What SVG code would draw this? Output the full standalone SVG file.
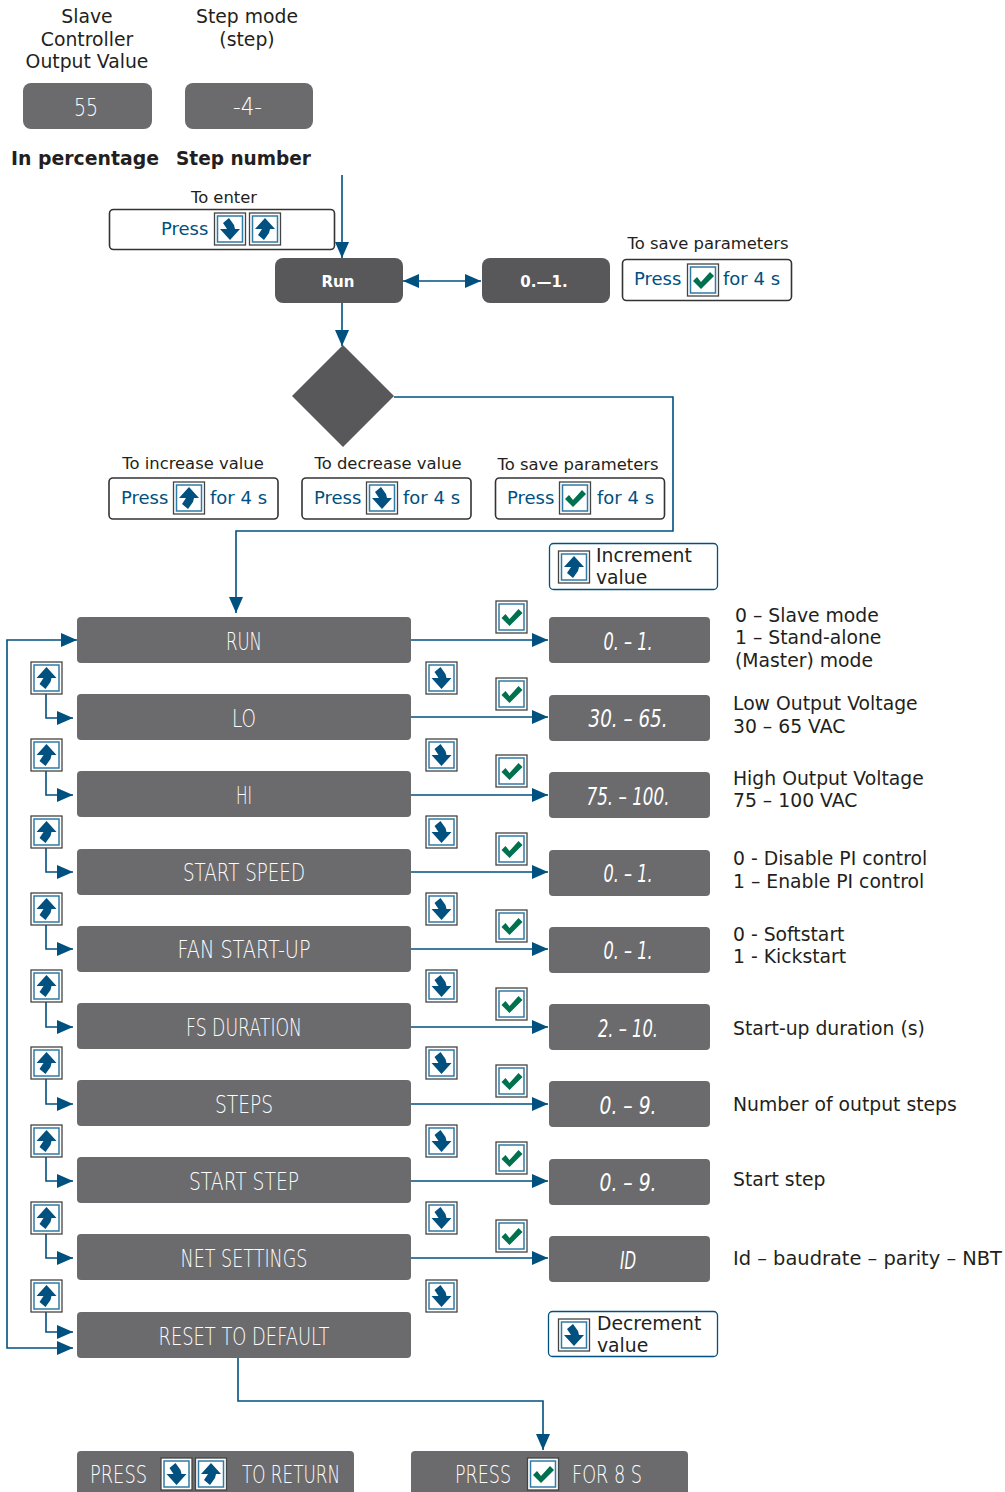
<svg xmlns="http://www.w3.org/2000/svg" width="1005" height="1492" viewBox="0 0 1005 1492">
<style>
text{font-family:"DejaVu Sans",Verdana,sans-serif}
.t{font-size:18.8px;fill:#231f20}
.c{text-anchor:middle}
.s{font-size:16.4px;fill:#231f20;text-anchor:middle}
.b{font-size:19.5px;font-weight:bold;fill:#231f20}
.p{font-size:18px;fill:#005080}
.d{fill:#6b6b6e}
.k{fill:#58585a}
.w{font-size:15px;font-weight:bold;fill:#fff;text-anchor:middle}
.l{font-weight:200;font-size:24px;fill:#fff;text-anchor:middle}
.i{font-style:italic}
.box{fill:#fff;stroke:#333;stroke-width:1.6}
.blue{fill:#fff;stroke:#005080;stroke-width:1.3}
.con{fill:none;stroke:#005080;stroke-width:1.6}
</style>
<defs>
<marker id="a" markerUnits="userSpaceOnUse" markerWidth="16" markerHeight="14" refX="16" refY="7" orient="auto-start-reverse"><path d="M0 0L16 7L0 14Z" fill="#005080"/></marker>
<g id="frame"><rect x="-15.500" y="-16" width="31" height="32" fill="#fff" stroke="#444" stroke-width="1.3"/><rect x="-12.500" y="-13" width="25" height="26" fill="#fff" stroke="#2f7ba5" stroke-width="1.5"/></g>
<g id="up"><use href="#frame"/><path d="M0-11L10 0H5L4 4L-1 11L-7 6L-3 0H-10Z" fill="#005080"/></g>
<g id="down"><use href="#frame"/><path d="M0 11L10 0H5L4-4L-1-11L-7-6L-3 0H-10Z" fill="#005080"/></g>
<g id="ok"><use href="#frame"/><path d="M-10 1L-6-3L-2 2L7-8L11-4L-2 9Z" fill="#00704f"/></g>
</defs>

<g id="connectors" class="con">
<path d="M342 175V258" marker-end="url(#a)"/>
<path d="M403 281H481" marker-start="url(#a)" marker-end="url(#a)"/>
<path d="M342 303V346" marker-end="url(#a)"/>
<path d="M394 397H673V531H236V613" marker-end="url(#a)"/>
<path d="M73 1348H7V640H77" marker-start="url(#a)" marker-end="url(#a)"/>
<path d="M411 640H548" marker-end="url(#a)"/><path d="M411 717H548" marker-end="url(#a)"/><path d="M411 795H548" marker-end="url(#a)"/><path d="M411 872H548" marker-end="url(#a)"/><path d="M411 949H548" marker-end="url(#a)"/><path d="M411 1027H548" marker-end="url(#a)"/><path d="M411 1104H548" marker-end="url(#a)"/><path d="M411 1181H548" marker-end="url(#a)"/><path d="M411 1258H548" marker-end="url(#a)"/>
<path d="M46 694V718H73" marker-end="url(#a)"/><path d="M46 771V795H73" marker-end="url(#a)"/><path d="M46 848V872H73" marker-end="url(#a)"/><path d="M46 925V949H73" marker-end="url(#a)"/><path d="M46 1002V1027H73" marker-end="url(#a)"/><path d="M46 1079V1104H73" marker-end="url(#a)"/><path d="M46 1157V1181H73" marker-end="url(#a)"/><path d="M46 1234V1258H73" marker-end="url(#a)"/><path d="M46 1312V1332H73" marker-end="url(#a)"/>
<path d="M238 1358V1401H543V1450" marker-end="url(#a)"/>
</g>

<g id="label-slave"><text class="t c" x="87" y="23">Slave</text><text class="t c" x="87" y="46">Controller</text><text class="t c" x="87" y="68">Output Value</text></g>
<g id="label-step"><text class="t c" x="247" y="23">Step mode</text><text class="t c" x="247" y="46">(step)</text></g>
<g id="n-55"><rect class="d" x="23" y="83" width="129" height="46" rx="8"/><text class="l" x="86" y="116" textLength="24" lengthAdjust="spacingAndGlyphs">55</text></g>
<g id="n-4"><rect class="d" x="185" y="83" width="128" height="46" rx="8"/><text class="l" x="247.500" y="115" textLength="29" lengthAdjust="spacingAndGlyphs">-4-</text></g>
<text class="b" x="11" y="165" textLength="148" lengthAdjust="spacingAndGlyphs">In percentage</text>
<text class="b" x="176" y="165" textLength="135" lengthAdjust="spacingAndGlyphs">Step number</text>

<g id="enter"><text class="s" x="224" y="203">To enter</text><rect class="box" x="109.500" y="209.500" width="225" height="40" rx="4"/><text class="p" x="161" y="235">Press</text><use href="#down" x="230" y="229"/><use href="#up" x="265" y="229"/></g>
<g id="n-run"><rect class="k" x="275" y="258" width="128" height="45" rx="8"/><text class="w" x="338" y="287">Run</text></g>
<g id="n-01"><rect class="k" x="482" y="258" width="128" height="45" rx="8"/><text class="w" x="544" y="287">0.—1.</text></g>
<g id="save1"><text class="s" x="708" y="249">To save parameters</text><rect class="box" x="622.500" y="259.500" width="169" height="41" rx="4"/><text class="p" x="634" y="285">Press</text><use href="#ok" x="703" y="280"/><text class="p" x="723" y="285">for 4 s</text></g>
<g id="decision"><path class="k" d="M343 345L394 396L343 447L292 396Z"/></g>

<g id="inc"><text class="s" x="193" y="469">To increase value</text><rect class="box" x="109" y="478" width="169" height="41" rx="4"/><text class="p" x="121" y="504">Press</text><use href="#up" x="189" y="498"/><text class="p" x="210" y="504">for 4 s</text></g>
<g id="dec"><text class="s" x="388" y="469">To decrease value</text><rect class="box" x="302" y="478" width="169" height="41" rx="4"/><text class="p" x="314" y="504">Press</text><use href="#down" x="382" y="498"/><text class="p" x="403" y="504">for 4 s</text></g>
<g id="save2"><text class="s" x="578" y="470">To save parameters</text><rect class="box" x="495.500" y="478" width="169" height="41" rx="4"/><text class="p" x="507" y="504">Press</text><use href="#ok" x="575" y="498"/><text class="p" x="597" y="504">for 4 s</text></g>

<g id="legend-inc"><rect class="blue" x="549.500" y="543.500" width="168" height="46" rx="4"/><use href="#up" x="574" y="567"/><text class="t" x="596" y="562">Increment</text><text class="t" x="596" y="584">value</text></g>
<g id="legend-dec"><rect class="blue" x="548.500" y="1311.500" width="169" height="45" rx="4"/><use href="#down" x="574" y="1335"/><text class="t" x="597" y="1330">Decrement</text><text class="t" x="597" y="1352">value</text></g>

<g id="r1"><rect class="d" x="77" y="617" width="334" height="46" rx="4"/><text class="l" x="244" y="650" textLength="36" lengthAdjust="spacingAndGlyphs">RUN</text></g>
<g id="r2"><rect class="d" x="77" y="694" width="334" height="46" rx="4"/><text class="l" x="244" y="727" textLength="24" lengthAdjust="spacingAndGlyphs">LO</text></g>
<g id="r3"><rect class="d" x="77" y="771" width="334" height="46" rx="4"/><text class="l" x="244" y="804" textLength="16" lengthAdjust="spacingAndGlyphs">HI</text></g>
<g id="r4"><rect class="d" x="77" y="849" width="334" height="46" rx="4"/><text class="l" x="244" y="881" textLength="122" lengthAdjust="spacingAndGlyphs">START SPEED</text></g>
<g id="r5"><rect class="d" x="77" y="926" width="334" height="46" rx="4"/><text class="l" x="244" y="958" textLength="133" lengthAdjust="spacingAndGlyphs">FAN START-UP</text></g>
<g id="r6"><rect class="d" x="77" y="1003" width="334" height="46" rx="4"/><text class="l" x="244" y="1036" textLength="116" lengthAdjust="spacingAndGlyphs">FS DURATION</text></g>
<g id="r7"><rect class="d" x="77" y="1080" width="334" height="46" rx="4"/><text class="l" x="244" y="1113" textLength="58" lengthAdjust="spacingAndGlyphs">STEPS</text></g>
<g id="r8"><rect class="d" x="77" y="1157" width="334" height="46" rx="4"/><text class="l" x="244" y="1190" textLength="110" lengthAdjust="spacingAndGlyphs">START STEP</text></g>
<g id="r9"><rect class="d" x="77" y="1234" width="334" height="46" rx="4"/><text class="l" x="244" y="1267" textLength="127" lengthAdjust="spacingAndGlyphs">NET SETTINGS</text></g>
<g id="r10"><rect class="d" x="77" y="1312" width="334" height="46" rx="4"/><text class="l" x="244" y="1345" textLength="171" lengthAdjust="spacingAndGlyphs">RESET TO DEFAULT</text></g>

<g id="v1"><rect class="d" x="549" y="617" width="161" height="46" rx="4"/><text class="l i" x="628" y="650" textLength="49" lengthAdjust="spacingAndGlyphs">0. – 1.</text></g>
<g id="v2"><rect class="d" x="549" y="695" width="161" height="46" rx="4"/><text class="l i" x="628" y="727" textLength="79" lengthAdjust="spacingAndGlyphs">30. – 65.</text></g>
<g id="v3"><rect class="d" x="549" y="772" width="161" height="46" rx="4"/><text class="l i" x="628" y="805" textLength="83" lengthAdjust="spacingAndGlyphs">75. – 100.</text></g>
<g id="v4"><rect class="d" x="549" y="850" width="161" height="46" rx="4"/><text class="l i" x="628" y="882" textLength="49" lengthAdjust="spacingAndGlyphs">0. – 1.</text></g>
<g id="v5"><rect class="d" x="549" y="927" width="161" height="46" rx="4"/><text class="l i" x="628" y="959" textLength="49" lengthAdjust="spacingAndGlyphs">0. – 1.</text></g>
<g id="v6"><rect class="d" x="549" y="1004" width="161" height="46" rx="4"/><text class="l i" x="628" y="1037" textLength="60" lengthAdjust="spacingAndGlyphs">2. – 10.</text></g>
<g id="v7"><rect class="d" x="549" y="1081" width="161" height="46" rx="4"/><text class="l i" x="628" y="1114" textLength="57" lengthAdjust="spacingAndGlyphs">0. – 9.</text></g>
<g id="v8"><rect class="d" x="549" y="1159" width="161" height="46" rx="4"/><text class="l i" x="628" y="1191" textLength="57" lengthAdjust="spacingAndGlyphs">0. – 9.</text></g>
<g id="v9"><rect class="d" x="549" y="1236" width="161" height="46" rx="4"/><text class="l i" x="628" y="1269" textLength="16" lengthAdjust="spacingAndGlyphs">ID</text></g>

<g id="icons-ok"><use href="#ok" x="511.500" y="617"/><use href="#ok" x="511.500" y="694"/><use href="#ok" x="511.500" y="771"/><use href="#ok" x="511.500" y="849"/><use href="#ok" x="511.500" y="926"/><use href="#ok" x="511.500" y="1004"/><use href="#ok" x="511.500" y="1081"/><use href="#ok" x="511.500" y="1158"/><use href="#ok" x="511.500" y="1236"/></g>
<g id="icons-up"><use href="#up" x="46.500" y="678"/><use href="#up" x="46.500" y="755"/><use href="#up" x="46.500" y="832"/><use href="#up" x="46.500" y="909"/><use href="#up" x="46.500" y="986"/><use href="#up" x="46.500" y="1063"/><use href="#up" x="46.500" y="1141"/><use href="#up" x="46.500" y="1218"/><use href="#up" x="46.500" y="1296"/></g>
<g id="icons-down"><use href="#down" x="441.500" y="678"/><use href="#down" x="441.500" y="755"/><use href="#down" x="441.500" y="832"/><use href="#down" x="441.500" y="909"/><use href="#down" x="441.500" y="986"/><use href="#down" x="441.500" y="1063"/><use href="#down" x="441.500" y="1141"/><use href="#down" x="441.500" y="1218"/><use href="#down" x="441.500" y="1296"/></g>

<g id="desc">
<text class="t" x="735" y="622">0 – Slave mode</text><text class="t" x="735" y="644">1 – Stand-alone</text><text class="t" x="735" y="667">(Master) mode</text>
<text class="t" x="733" y="710">Low Output Voltage</text><text class="t" x="733" y="733">30 – 65 VAC</text>
<text class="t" x="733" y="785">High Output Voltage</text><text class="t" x="733" y="807">75 – 100 VAC</text>
<text class="t" x="733" y="865">0 - Disable PI control</text><text class="t" x="733" y="888">1 – Enable PI control</text>
<text class="t" x="733" y="941">0 - Softstart</text><text class="t" x="733" y="963">1 - Kickstart</text>
<text class="t" x="733" y="1035">Start-up duration (s)</text>
<text class="t" x="733" y="1111">Number of output steps</text>
<text class="t" x="733" y="1186">Start step</text>
<text class="t" x="733" y="1265" textLength="269" lengthAdjust="spacingAndGlyphs">Id – baudrate – parity – NBT</text>
</g>

<g id="b1"><path class="d" d="M77 1492V1455a4 4 0 0 1 4-4H350a4 4 0 0 1 4 4V1492Z"/><text class="l" x="118.500" y="1483" textLength="57" lengthAdjust="spacingAndGlyphs">PRESS</text><use href="#down" x="176.500" y="1474"/><use href="#up" x="211" y="1474"/><text class="l" x="291" y="1483" textLength="98" lengthAdjust="spacingAndGlyphs">TO RETURN</text></g>
<g id="b2"><path class="d" d="M411 1492V1455a4 4 0 0 1 4-4H684a4 4 0 0 1 4 4V1492Z"/><text class="l" x="483" y="1483" textLength="56" lengthAdjust="spacingAndGlyphs">PRESS</text><use href="#ok" x="543" y="1474"/><text class="l" x="607" y="1483" textLength="70" lengthAdjust="spacingAndGlyphs">FOR 8 S</text></g>
</svg>
